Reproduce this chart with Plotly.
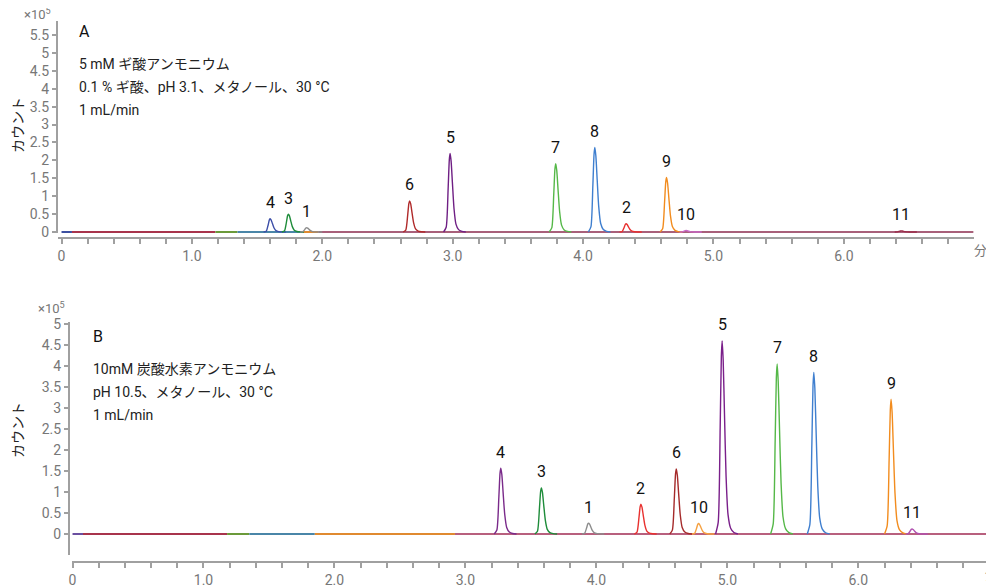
import plotly.graph_objects as go

FONT = "Roboto, 'Noto Sans CJK JP', sans-serif"

# --- chromatogram A: 5 mM ammonium formate (counts in x10^5) ---
LABELS_A = ["4", "3", "1", "6", "5", "7", "8", "2", "9", "10", "11"]
RT_A = [1.60, 1.74, 1.88, 2.67, 2.98, 3.79, 4.09, 4.33, 4.64, 4.79, 6.44]
HEIGHT_A = [0.37, 0.50, 0.12, 0.87, 2.19, 1.91, 2.36, 0.23, 1.52, 0.04, 0.03]
COLORS_A = ["#3d4fa8", "#1e8c3a", "#8c8c8c", "#b02a2a", "#6f1f84", "#55b848",
            "#3f7fcf", "#e8312f", "#f28c1e", "#c86ac8", "#9b2d4a"]
BASE_EDGES_A = [0.0, 0.08, 1.18, 1.35, 1.85, 1.97, 6.995]
BASE_COLORS_A = ["#3c4fa0", "#a8344c", "#6b9a3a", "#4a86a8", "#e08a30", "#a8607a"]

# --- chromatogram B: 10 mM ammonium bicarbonate ---
LABELS_B = ["4", "3", "1", "2", "6", "10", "5", "7", "8", "9", "11"]
RT_B = [3.27, 3.58, 3.94, 4.34, 4.61, 4.78, 4.96, 5.38, 5.66, 6.25, 6.41]
HEIGHT_B = [1.57, 1.10, 0.26, 0.71, 1.55, 0.25, 4.60, 4.05, 3.85, 3.21, 0.12]
COLORS_B = ["#7a2a8a", "#1e8c3a", "#8c8c8c", "#e8312f", "#a52a2a", "#f5a040",
            "#7a1f8a", "#55b848", "#3f7fcf", "#f28c1e", "#b050b0"]
BASE_EDGES_B = [0.0, 0.08, 1.18, 1.35, 1.85, 2.92, 6.99]
BASE_COLORS_B = ["#6a4fa0", "#a8344c", "#6b9a3a", "#4a86a8", "#e08a30", "#b8607e"]

# peak profile (offset in min, fraction of apex)
PEAK_DT = [-0.05, -0.03, -0.015, -0.006, 0.0, 0.008, 0.018, 0.03, 0.045, 0.065, 0.09, 0.12]
PEAK_REL = [0.0, 0.06, 0.55, 0.92, 1.0, 0.9, 0.62, 0.3, 0.1, 0.03, 0.008, 0.0]

X_TICKS = [0, 1, 2, 3, 4, 5, 6]
X_TICK_TEXT = ["0", "1.0", "2.0", "3.0", "4.0", "5.0", "6.0"]
Y_TICKS_A = [0, 0.5, 1, 1.5, 2, 2.5, 3, 3.5, 4, 4.5, 5, 5.5]
Y_TICKS_B = [0, 0.5, 1, 1.5, 2, 2.5, 3, 3.5, 4, 4.5, 5]

TEXT_A = ["5 mM ギ酸アンモニウム", "0.1 % ギ酸、pH 3.1、メタノール、30 °C", "1 mL/min"]
TEXT_B = ["10mM 炭酸水素アンモニウム", "pH 10.5、メタノール、30 °C", "1 mL/min"]

# page body has an 8px margin, so the figure starts at (8, 8) in the window
OFF = 8
W, H = 994 - OFF, 586 - OFF
AXIS_GRAY = "#a0a0a0"
TICK_GRAY = "#777777"


def px(x):
    return (x - OFF) / W


def py(y):
    return 1 - (y - OFF) / H


def add_panel(fig, xa, ya, edges, base_colors, labels, rts, heights, colors):
    # coloured baseline segments
    for i, c in enumerate(base_colors):
        fig.add_trace(go.Scatter(x=[edges[i], edges[i + 1]], y=[0, 0], mode="lines",
                                 line=dict(color=c, width=2), xaxis=xa, yaxis=ya,
                                 hoverinfo="skip"))
    # peaks
    for lab, rt, h, c in zip(labels, rts, heights, colors):
        fig.add_trace(go.Scatter(x=[rt + d for d in PEAK_DT], y=[h * r for r in PEAK_REL],
                                 mode="lines", line=dict(color=c, width=1.4, shape="spline",
                                                         smoothing=0.6),
                                 xaxis=xa, yaxis=ya, name=lab))
        fig.add_annotation(x=rt, y=h, xref=xa, yref=ya, text=lab, showarrow=False,
                           yshift=16, font=dict(size=16, color="#111111", family=FONT))


fig = go.Figure()
add_panel(fig, "x", "y", BASE_EDGES_A, BASE_COLORS_A, LABELS_A, RT_A, HEIGHT_A, COLORS_A)
add_panel(fig, "x2", "y2", BASE_EDGES_B, BASE_COLORS_B, LABELS_B, RT_B, HEIGHT_B, COLORS_B)

xcommon = dict(showline=True, linecolor=AXIS_GRAY, linewidth=2, showgrid=False, zeroline=False,
               ticks="outside", ticklen=5, tickcolor=AXIS_GRAY, tickwidth=1.5,
               tickvals=X_TICKS, ticktext=X_TICK_TEXT,
               tickfont=dict(size=14, color=TICK_GRAY, family=FONT),
               minor=dict(tick0=0, dtick=0.2, ticks="outside", ticklen=5,
                          tickcolor=AXIS_GRAY, tickwidth=1.5, showgrid=False),
               anchor="free", automargin=False)
ycommon = dict(showline=True, linecolor=AXIS_GRAY, linewidth=2, showgrid=False, zeroline=False,
               ticks="outside", ticklen=4, tickcolor=AXIS_GRAY, tickwidth=1.5,
               tickfont=dict(size=14, color=TICK_GRAY, family=FONT), anchor="free",
               automargin=False)

fig.update_layout(
    width=W, height=H, margin=dict(l=0, r=0, t=0, b=0, autoexpand=False),
    plot_bgcolor="white", paper_bgcolor="white", showlegend=False,
    font=dict(family=FONT),
    xaxis=dict(xcommon, domain=[px(58.4), px(973.6)], range=[-0.024, 6.995], position=py(238)),
    yaxis=dict(ycommon, domain=[py(233), py(21)], range=[-0.028, 5.89], position=px(57),
               tickvals=Y_TICKS_A, ticktext=[f"{v:g}" for v in Y_TICKS_A]),
    xaxis2=dict(xcommon, domain=[px(72), px(988)], range=[-0.004, 6.99], position=py(562)),
    yaxis2=dict(ycommon, domain=[py(555), py(322)], range=[-0.5, 5.05], position=px(69),
                tickvals=Y_TICKS_B, ticktext=[f"{v:g}" for v in Y_TICKS_B]),
)


# panel text, placed in window pixels
def paper_text(x, y, text, size=14, color="#222222", xanchor="left", **kw):
    fig.add_annotation(x=px(x), y=py(y), xref="paper", yref="paper", text=text,
                       showarrow=False, xanchor=xanchor, yanchor="middle",
                       font=dict(size=size, color=color, family=FONT), **kw)


paper_text(77, 32, "A", size=16, color="#111111")
for i, t in enumerate(TEXT_A):
    paper_text(77, 64 + 23 * i, t)
paper_text(91, 337, "B", size=16, color="#111111")
for i, t in enumerate(TEXT_B):
    paper_text(91, 369 + 23 * i, t)

paper_text(22, 14, "×10<sup>5</sup>", size=13, color=TICK_GRAY)
paper_text(36, 308, "×10<sup>5</sup>", size=13, color=TICK_GRAY)
paper_text(18, 125, "カウント", xanchor="center", textangle=-90)
paper_text(18, 430, "カウント", xanchor="center", textangle=-90)
paper_text(980, 250, "分", size=13, color=TICK_GRAY, xanchor="center")
paper_text(983, 574, "分", size=13, color=TICK_GRAY)

fig.write_html("out.html")
